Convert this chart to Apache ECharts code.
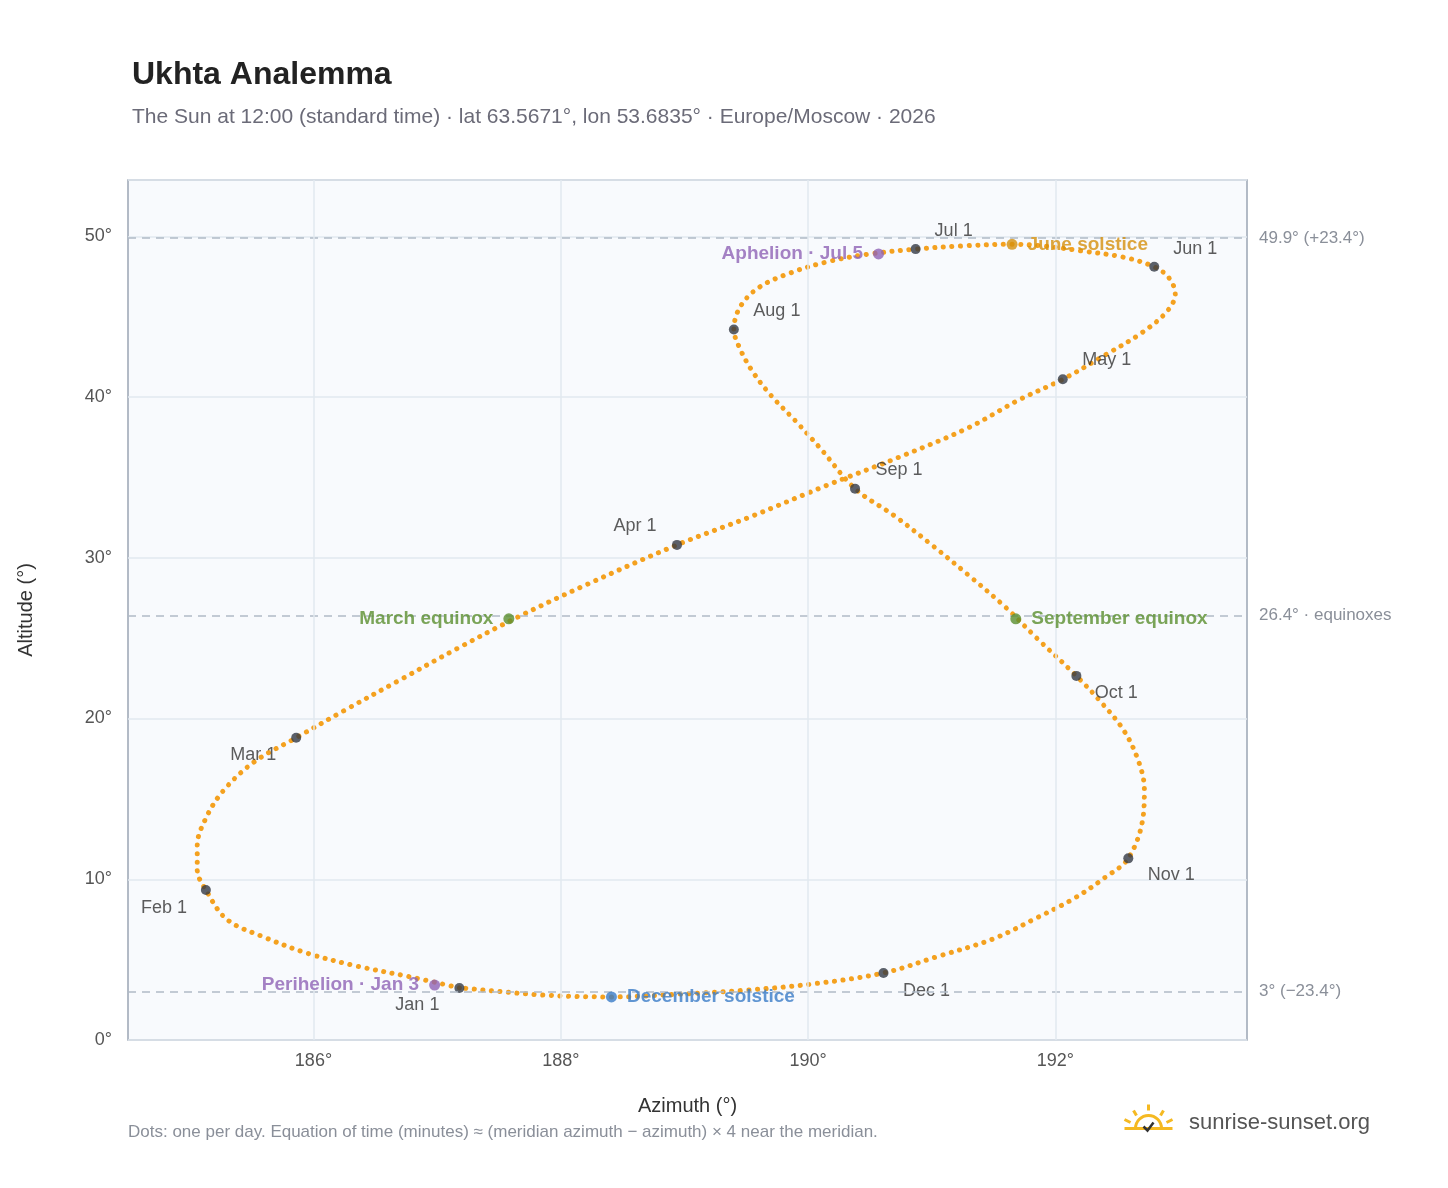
<!DOCTYPE html>
<html><head><meta charset="utf-8">
<script src="https://cdn.jsdelivr.net/npm/echarts@6/dist/echarts.min.js"></script>
<style>html,body{margin:0;padding:0;background:#fff}#c{width:1448px;height:1188px}</style>
</head><body><div id="c"></div>
<script>
const azimuth = [187.18,186.8,186.35,185.95,185.6,185.3,185.13,185.06,185.06,185.13,185.27,185.52,185.86,186.25,186.7,187.15,187.65,188.2,188.94,189.55,190.15,190.75,191.3,191.7,192.06,192.4,192.7,192.9,192.97,192.92,192.8,192.55,192.2,191.9,191.65,191.25,190.87,190.5,190.15,189.85,189.6,189.45,189.4,189.45,189.55,189.7,189.9,190.1,190.38,190.7,191.0,191.3,191.6,191.85,192.17,192.36,192.55,192.67,192.72,192.71,192.59,192.4,192.15,191.85,191.5,191.05,190.61,190.05,189.5,188.95,188.41,187.85,187.25,187.18];
const altitude = [3.24,3.9,4.6,5.4,6.4,7.5,9.33,10.6,12.1,13.8,15.5,17.3,18.8,20.5,22.4,24.3,26.3,28.3,30.8,32.6,34.5,36.3,38.1,39.8,41.1,42.6,44.0,45.3,46.4,47.4,48.1,48.7,49.1,49.4,49.5,49.4,49.2,48.9,48.4,47.7,46.8,45.6,44.2,43.0,41.6,40.1,38.5,36.8,34.3,32.6,30.8,28.9,26.9,25.0,22.65,21.1,19.3,17.4,15.6,13.9,11.3,10.1,8.8,7.6,6.3,5.2,4.17,3.5,3.1,2.85,2.68,2.8,3.2,3.24];
const monthLabels = ['Jan 1','Feb 1','Mar 1','Apr 1','May 1','Jun 1','Jul 1','Aug 1','Sep 1','Oct 1','Nov 1','Dec 1'];
const monthAz = [187.18,185.13,185.86,188.94,192.06,192.8,190.87,189.4,190.38,192.17,192.59,190.61];
const monthAlt = [3.24,9.33,18.8,30.8,41.1,48.1,49.2,44.2,34.3,22.65,11.3,4.17];
const eventNames = ['June solstice','Aphelion · Jul 5','March equinox','September equinox','December solstice','Perihelion · Jan 3'];
const eventAz = [191.65,190.57,187.58,191.68,188.41,186.98];
const eventAlt = [49.5,48.9,26.2,26.2,2.68,3.42];
const eventColors = ['#d4900c','#8e63b5','#5a8f2e','#5a8f2e','#3a7cc7','#8e63b5'];
const eventPos = ['right','left','left','right','right','left'];
const xTicks = [186,188,190,192];
const refLines = [49.9,26.4,3];
const refLabels = ['49.9° (+23.4°)','26.4° · equinoxes','3° (−23.4°)'];

const chart = echarts.init(document.getElementById('c'));
const font = 'Liberation Sans, Arial, sans-serif';
const monthOffsets = [[-42,17],[-42,18],[-43,17],[-42,-19],[44,-19],[41,-18],[38,-18],[43,-18],[44,-19],[40,17],[43,17],[43,18]];
chart.setOption({
  animation:false,
  textStyle:{fontFamily:font},
  title:{text:'Ukhta Analemma',subtext:'The Sun at 12:00 (standard time) · lat 63.5671°, lon 53.6835° · Europe/Moscow · 2026',
    left:127,top:54,textStyle:{fontSize:32,fontWeight:'bold',color:'#222'},subtextStyle:{fontSize:21,color:'#6b6b78'},itemGap:16},
  grid:{left:128,right:201,top:180,bottom:148,show:true,backgroundColor:'#f8fafd',borderColor:'#9aa5b4',borderWidth:1.5},
  xAxis:{type:'value',min:184.5,max:193.55,interval:0.5,name:'Azimuth (°)',nameLocation:'middle',nameGap:56,
    nameTextStyle:{fontSize:20,color:'#333'},
    axisLabel:{fontSize:18,color:'#555',margin:12,formatter:v=>(Math.abs(v%2)<1e-6?v+'°':'')},
    axisLine:{show:false},axisTick:{show:false},splitLine:{show:false}},
  yAxis:{type:'value',min:0,max:53.5,interval:10,name:'Altitude (°)',nameLocation:'middle',nameGap:92,
    nameTextStyle:{fontSize:20,color:'#333'},
    axisLabel:{fontSize:18,color:'#555',margin:16,formatter:v=>(v%10===0?v+'°':'')},
    axisLine:{show:false},axisTick:{show:false},splitLine:{lineStyle:{color:'#e2e8ef',width:1.5}}},
  series:[
    {type:'line',smooth:0.35,symbol:'none',data:azimuth.map((a,i)=>[a,altitude[i]]),
     lineStyle:{color:'#f4a11f',width:5,type:[0.1,8.5],cap:'round'},z:2,
     markLine:{silent:true,symbol:'none',lineStyle:{color:'#b0bac6',type:[8,6],width:1.5},
       label:{position:'end',distance:12,color:'#8a8f99',fontSize:17},
       data:refLines.map((v,i)=>({yAxis:v,label:{formatter:refLabels[i]}}))}},
    {type:'line',data:[],z:1,
     markLine:{silent:true,symbol:'none',lineStyle:{color:'#e2e8ef',type:'solid',width:1.5},label:{show:false},
       data:xTicks.map(v=>({xAxis:v}))}},
    {type:'scatter',symbolSize:10,z:4,itemStyle:{color:'#333a45'},
     data:monthAz.map((a,i)=>({value:[a,monthAlt[i]],label:{show:true,formatter:monthLabels[i],position:'inside',offset:monthOffsets[i],color:'#333',fontSize:18,align:'center'}}))},
    {type:'scatter',symbolSize:11,z:5,
     data:eventAz.map((a,i)=>({value:[a,eventAlt[i]],itemStyle:{color:eventColors[i]},
       label:{show:true,formatter:eventNames[i],position:eventPos[i],distance:10,color:eventColors[i],fontSize:19,fontWeight:'bold'}}))}
  ],
  graphic:[
    {type:'text',left:128,top:1124,style:{text:'Dots: one per day. Equation of time (minutes) ≈ (meridian azimuth − azimuth) × 4 near the meridian.',fontSize:17,fill:'#8a8f99',fontFamily:font}},
    {type:'text',left:1189,top:1112,style:{text:'sunrise-sunset.org',fontSize:22,fill:'#555',fontFamily:font}},
    {type:'group',left:1122,top:1102,children:[
      {type:'arc',shape:{cx:26,cy:26,r:13,startAngle:Math.PI,endAngle:2*Math.PI},style:{stroke:'#f5b921',lineWidth:3,fill:null}},
      {type:'line',shape:{x1:2,y1:26,x2:50,y2:26},style:{stroke:'#f5b921',lineWidth:3}},
      {type:'line',shape:{x1:26,y1:2,x2:26,y2:8},style:{stroke:'#f5b921',lineWidth:3}},
      {type:'line',shape:{x1:11,y1:8,x2:14,y2:13},style:{stroke:'#f5b921',lineWidth:3}},
      {type:'line',shape:{x1:41,y1:8,x2:38,y2:13},style:{stroke:'#f5b921',lineWidth:3}},
      {type:'line',shape:{x1:2,y1:17,x2:8,y2:20},style:{stroke:'#f5b921',lineWidth:3}},
      {type:'line',shape:{x1:50,y1:17,x2:44,y2:20},style:{stroke:'#f5b921',lineWidth:3}},
      {type:'polyline',shape:{points:[[21,24],[25,28],[31,20]]},style:{stroke:'#333',lineWidth:2.5,fill:null}}
    ]}
  ]
});
</script></body></html>
